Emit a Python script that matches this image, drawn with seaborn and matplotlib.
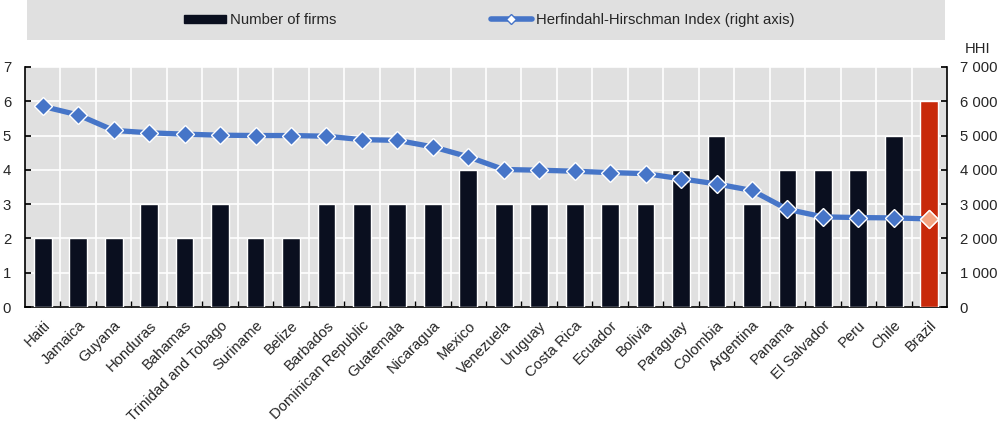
import numpy as np
import pandas as pd
import matplotlib
matplotlib.use("Agg")
import matplotlib.pyplot as plt
from matplotlib.patches import Rectangle, Patch
from matplotlib.lines import Line2D
from matplotlib.ticker import FuncFormatter, FixedLocator
import seaborn as sns

countries = ["Haiti", "Jamaica", "Guyana", "Honduras", "Bahamas", "Trinidad and Tobago",
             "Suriname", "Belize", "Barbados", "Dominican Republic", "Guatemala", "Nicaragua",
             "Mexico", "Venezuela", "Uruguay", "Costa Rica", "Ecuador", "Bolivia", "Paraguay",
             "Colombia", "Argentina", "Panama", "El Salvador", "Peru", "Chile", "Brazil"]
firms = [2, 2, 2, 3, 2, 3, 2, 2, 3, 3, 3, 3, 4, 3, 3, 3, 3, 3, 4, 5, 3, 4, 4, 4, 5, 6]
hhi = [5850, 5600, 5150, 5080, 5040, 5010, 5000, 5000, 4980, 4880, 4860, 4670,
       4380, 4010, 3990, 3960, 3920, 3890, 3740, 3590, 3400, 2850, 2630, 2610, 2600, 2570]
highlight = "Brazil"

NAVY = "#0a0f1f"
RED = "#c8290a"
BLUE = "#4675c8"
ORANGE = "#f4a582"
BG = "#e0e0e0"
FS = 10.7

sns.set_theme(style="white")
plt.rcParams['font.family'] = ['Liberation Sans', 'DejaVu Sans']
plt.rcParams['font.size'] = FS

df = pd.DataFrame({"country": countries, "firms": firms, "hhi": hhi})
df["pos"] = np.arange(len(df))
palette = {c: (RED if c == highlight else NAVY) for c in countries}

fig = plt.figure(figsize=(10, 4.26), dpi=100)
ax = fig.add_axes([0.025, 0.279, 0.922, 0.564])
ax.set_facecolor(BG)

sns.barplot(data=df, x="country", y="firms", hue="country", palette=palette,
            width=0.5, legend=False, ax=ax, saturation=1, zorder=3)

ax.set_xlim(-0.5, len(df) - 0.5)
ax.set_ylim(0, 7)
ax.set_yticks(range(0, 8))
ax.set_xlabel("")
ax.set_ylabel("")
ax.xaxis.set_minor_locator(FixedLocator(np.arange(0.5, len(df) - 0.5, 1)))
ax.grid(axis="y", which="major", color="white", linewidth=1.2, zorder=0)
ax.grid(axis="x", which="minor", color="white", linewidth=1.2, zorder=0)
ax.set_axisbelow(True)
ax.tick_params(axis="x", which="major", length=0, pad=8)
ax.tick_params(axis="x", which="minor", direction="in", length=4, color="black", bottom=True)
ax.tick_params(axis="y", direction="in", length=4, color="black", left=True, pad=10, labelsize=FS)
plt.setp(ax.get_xticklabels(), rotation=45, ha="right", rotation_mode="anchor", fontsize=FS)
for s in ["top", "right"]:
    ax.spines[s].set_visible(False)
for s in ["left", "bottom"]:
    ax.spines[s].set_color("black")
    ax.spines[s].set_linewidth(1.2)

ax2 = ax.twinx()
sns.lineplot(data=df, x="pos", y="hhi", ax=ax2, color=BLUE, linewidth=3.8,
             marker="D", markersize=9, markerfacecolor=BLUE, markeredgecolor="white",
             markeredgewidth=1, zorder=5)
hl = df[df["country"] == highlight]
sns.scatterplot(data=hl, x="pos", y="hhi", ax=ax2, marker="D", s=85, color=ORANGE,
                edgecolor="white", linewidth=1, zorder=6)
ax2.set_ylim(0, 7000)
ax2.set_yticks(range(0, 7001, 1000))
ax2.yaxis.set_major_formatter(FuncFormatter(lambda v, p: f"{int(v):,}".replace(",", " ")))
ax2.set_xlabel("")
ax2.set_ylabel("")
ax2.tick_params(axis="y", direction="in", length=4, color="black", right=True, pad=9, labelsize=FS)
for s in ["top", "left", "bottom"]:
    ax2.spines[s].set_visible(False)
ax2.spines["right"].set_color("black")
ax2.spines["right"].set_linewidth(1.2)
ax2.grid(False)

fig.text(0.965, 0.876, "HHI", ha="left", va="baseline", fontsize=FS)

fig.patches.append(Rectangle((0.027, 0.906), 0.918, 0.094, transform=fig.transFigure,
                             facecolor=BG, edgecolor="none", zorder=0))
handles = [Patch(facecolor=NAVY, edgecolor=NAVY),
           Line2D([0], [0], color=BLUE, linewidth=4, marker="D", markersize=5,
                  markerfacecolor="white", markeredgecolor=BLUE)]
fig.legend(handles, ["Number of firms", "Herfindahl-Hirschman Index (right axis)"],
           loc="center left", bbox_to_anchor=(0.184, 0.953), ncol=2, frameon=False,
           fontsize=FS, handlelength=2.8, handleheight=0.5, columnspacing=10.4,
           handletextpad=0.27, borderpad=0, borderaxespad=0)

fig.savefig("out.png", dpi=100)
